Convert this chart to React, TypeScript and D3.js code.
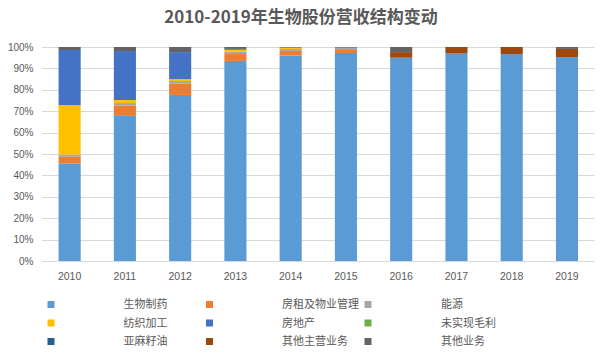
import React, { useEffect, useRef } from 'react';
import * as d3 from 'd3';

// Years on the x axis
const years = ['2010', '2011', '2012', '2013', '2014', '2015', '2016', '2017', '2018', '2019'];

// Series names in stacking / legend order
const seriesNames = [
  '生物制药',
  '房租及物业管理',
  '能源',
  '纺织加工',
  '房地产',
  '未实现毛利',
  '亚麻籽油',
  '其他主营业务',
  '其他业务',
];

const seriesColors = [
  '#5B9BD5',
  '#ED7D31',
  '#A5A5A5',
  '#FFC000',
  '#4472C4',
  '#70AD47',
  '#255E91',
  '#9E480E',
  '#636363',
];

// Share of revenue (%) per series, one value per year
const bioPharma = [45.6, 67.8, 77.6, 93.5, 96.0, 97.2, 95.0, 97.2, 96.7, 95.3];
const rentProperty = [3.1, 4.9, 5.3, 3.2, 2.2, 1.4, 0, 0, 0, 0];
const energy = [1.0, 1.1, 1.2, 1.1, 0.9, 1.1, 0, 0, 0, 0];
const textile = [23.2, 1.4, 0.9, 0.9, 0.6, 0, 0, 0, 0, 0];
const realEstate = [25.7, 22.9, 12.6, 0.4, 0, 0, 0, 0, 0, 0];
const unrealized = [0, 0, 0, 0, 0, 0, 0, 0, 0, 0];
const linseedOil = [0, 0, 0, 0, 0, 0, 0, 0, 0, 0];
const otherMain = [0, 0, 0, 0, 0, 0, 2.6, 2.8, 3.3, 3.8];
const otherBiz = [1.4, 1.9, 2.4, 0.9, 0.3, 0.3, 2.4, 0, 0, 0.9];

const seriesValues = [
  bioPharma,
  rentProperty,
  energy,
  textile,
  realEstate,
  unrealized,
  linseedOil,
  otherMain,
  otherBiz,
];

const yTicks = [0, 10, 20, 30, 40, 50, 60, 70, 80, 90, 100];

const FONT = '"Liberation Sans", "Noto Sans CJK SC", sans-serif';
const TEXT_COLOR = '#595959';

export default function App() {
  const ref = useRef<SVGSVGElement | null>(null);

  useEffect(() => {
    document.body.style.margin = '0';
    if (!ref.current) return;
    const width = 603;
    const height = 352;
    const svg = d3.select(ref.current);
    svg.selectAll('*').remove();
    svg.attr('viewBox', `0 0 ${width} ${height}`);

    svg.append('rect').attr('width', width).attr('height', height).attr('fill', '#fff');

    // Title
    svg.append('text')
      .attr('x', 301)
      .attr('y', 23)
      .attr('text-anchor', 'middle')
      .attr('font-family', '"Noto Sans CJK SC", sans-serif')
      .attr('font-weight', 'bold')
      .attr('font-size', 17)
      .attr('fill', TEXT_COLOR)
      .text('2010-2019年生物股份营收结构变动');

    // Rows for stacking
    const rows = years.map((_, i) => {
      const row: Record<string, number> = {};
      seriesNames.forEach((name, s) => (row[name] = seriesValues[s][i]));
      return row;
    });
    const stacked = d3.stack<Record<string, number>>()
      .keys(seriesNames)
      .order(d3.stackOrderNone)
      .offset(d3.stackOffsetNone)(rows);

    const x = d3.scaleBand<string>()
      .domain(years)
      .range([42, 594.6])
      .paddingInner(0.6)
      .paddingOuter(0.3);

    const y = d3.scaleLinear().domain([0, 100]).range([261, 47]);

    const color = d3.scaleOrdinal<string, string>().domain(seriesNames).range(seriesColors);

    // Grid lines
    svg.append('g')
      .selectAll('line')
      .data(yTicks)
      .join('line')
      .attr('x1', 42)
      .attr('x2', 594.6)
      .attr('y1', d => Math.round(y(d)) + 0.5)
      .attr('y2', d => Math.round(y(d)) + 0.5)
      .attr('stroke', '#D9D9D9')
      .attr('stroke-width', 1);

    // Y tick labels
    svg.append('g')
      .selectAll('text')
      .data(yTicks)
      .join('text')
      .attr('x', 33.5)
      .attr('y', d => y(d))
      .attr('dy', '0.35em')
      .attr('text-anchor', 'end')
      .attr('font-family', FONT)
      .attr('font-size', 10)
      .attr('fill', TEXT_COLOR)
      .text(d => `${d}%`);

    // X tick labels
    svg.append('g')
      .selectAll('text')
      .data(years)
      .join('text')
      .attr('x', d => x(d)! + x.bandwidth() / 2)
      .attr('y', 279.5)
      .attr('text-anchor', 'middle')
      .attr('font-family', FONT)
      .attr('font-size', 10.5)
      .attr('fill', TEXT_COLOR)
      .text(d => d);

    // Bars
    const series = svg.append('g')
      .selectAll('g')
      .data(stacked)
      .join('g')
      .attr('fill', d => color(d.key));

    series.selectAll('rect')
      .data(d => d.map((v, i) => ({ v, i })))
      .join('rect')
      .attr('x', d => x(years[d.i])!)
      .attr('y', d => y(d.v[1]))
      .attr('width', x.bandwidth())
      .attr('height', d => Math.max(0, y(d.v[0]) - y(d.v[1])));

    // Legend, 3 columns
    const colX = [47.5, 206, 364.5];
    const textX = [123.5, 282, 441];
    const rowY = [304.5, 323, 341.5];
    const legend = svg.append('g')
      .selectAll('g')
      .data(seriesNames)
      .join('g');
    legend.append('rect')
      .attr('x', (_, i) => colX[i % 3])
      .attr('y', (_, i) => rowY[Math.floor(i / 3)] - 3.5)
      .attr('width', 7)
      .attr('height', 7)
      .attr('fill', d => color(d));
    legend.append('text')
      .attr('x', (_, i) => textX[i % 3])
      .attr('y', (_, i) => rowY[Math.floor(i / 3)])
      .attr('dy', '0.35em')
      .attr('font-family', FONT)
      .attr('font-size', 11)
      .attr('fill', TEXT_COLOR)
      .text(d => d);
  }, []);

  return <svg ref={ref} width={603} height={352} style={{ display: 'block' }}></svg>;
}
